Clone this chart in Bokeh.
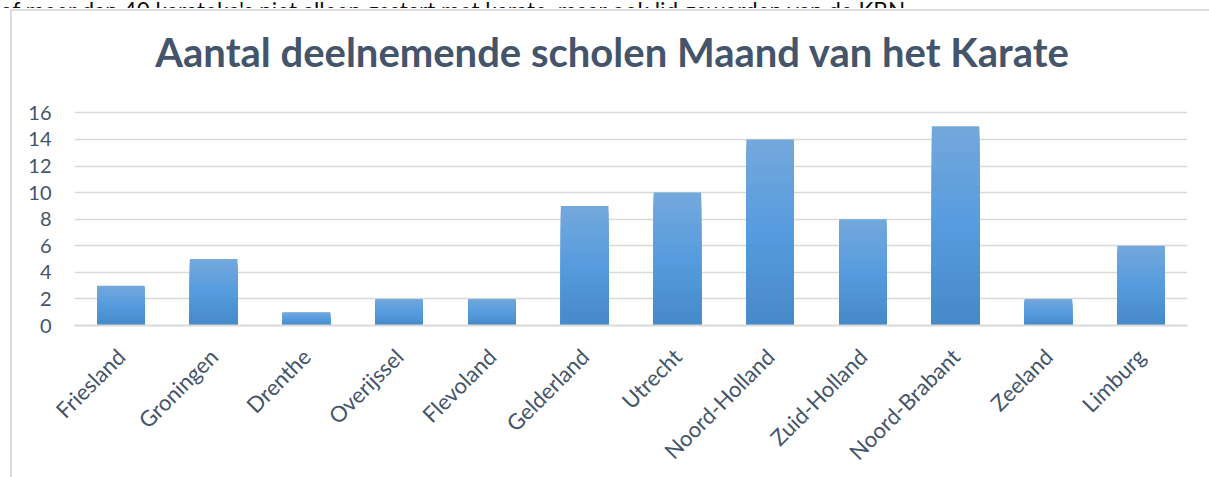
from bokeh.plotting import figure
from bokeh.models import Range1d, FixedTicker, ColumnDataSource, Div, Label
from bokeh.layouts import column
from bokeh.embed import file_html
from bokeh.resources import INLINE

# ---- data ----
provinces = ["Friesland", "Groningen", "Drenthe", "Overijssel", "Flevoland", "Gelderland",
             "Utrecht", "Noord-Holland", "Zuid-Holland", "Noord-Brabant", "Zeeland", "Limburg"]
schools = [3, 5, 1, 2, 2, 9, 10, 14, 8, 15, 2, 6]
y_ticks = [0, 2, 4, 6, 8, 10, 12, 14, 16]
title_text = "Aantal deelnemende scholen Maand van het Karate"
top_text = "of meer dan 40 karateka's niet alleen gestart met karate, maar ook lid geworden van de KBN."

TEXT_COL = "#44546a"
GRID_COL = "#d9d9d9"
FONT = "Lato"

W, H = 1209, 477
DIV_H = 8
PH = H - DIV_H
FL, FR, FT, FB = 74, 1187, 113, 327  # chart plot area in page px
Y_MAX = 16
PX_PER_UNIT = (FB - FT) / Y_MAX
PX_PER_CAT = (FR - FL) / len(provinces)
# the figure frame reaches to the top of the figure, so the title can live inside it
y_top = Y_MAX + (FT - DIV_H) / PX_PER_UNIT

# clipped line of document text above the chart
div = Div(text='<div style="margin-top:-15px;white-space:nowrap">%s</div>' % top_text,
          width=W, height=DIV_H,
          styles={"overflow": "hidden", "font-family": "Lato", "font-size": "22.5px",
                  "line-height": "22px", "color": "#0d0d0d", "margin": "0", "padding": "0"})

p = figure(width=W, height=PH, output_backend="svg", toolbar_location=None, title=None,
           x_range=Range1d(-0.5, len(provinces) - 0.5), y_range=Range1d(0, y_top),
           min_border_left=FL, min_border_right=W - FR,
           min_border_top=0, min_border_bottom=H - FB,
           background_fill_color=None, border_fill_color=None, outline_line_color=None)
p.styles = {
    "background-color": "white",
    "background-image": "linear-gradient(#dadde2,#dadde2), linear-gradient(#dadde2,#dadde2)",
    "background-position": "10px 1px, 10px 1px",
    "background-size": "2px 100%, 100% 2px",
    "background-repeat": "no-repeat",
}

# ---- title ----
p.add_layout(Label(x=-0.5 + (612 - FL) / PX_PER_CAT, y=(FB - 52) / PX_PER_UNIT,
                   text=title_text, text_align="center", text_baseline="alphabetic",
                   text_font=FONT, text_font_style="bold", text_font_size="40px",
                   text_color=TEXT_COL))

# ---- bars with vertical gradient (overlapping bands from the bar's own value) ----
def lerp(c1, c2, t):
    return tuple(round(a + (b - a) * t) for a, b in zip(c1, c2))

top_c, mid_c, bot_c = (116, 168, 220), (86, 156, 222), (70, 137, 200)
N = 30
bw = 0.513
xs_l, xs_r, tops, cols = [], [], [], []
for k in range(N - 1, -1, -1):
    t = (k + 0.5) / N
    c = lerp(bot_c, mid_c, t / 0.5) if t < 0.5 else lerp(mid_c, top_c, (t - 0.5) / 0.5)
    hexc = "#%02x%02x%02x" % c
    for i, v in enumerate(schools):
        xs_l.append(i - bw / 2)
        xs_r.append(i + bw / 2)
        tops.append(v * (k + 1) / N)
        cols.append(hexc)
src = ColumnDataSource(dict(left=xs_l, right=xs_r, top=tops, bottom=[0] * len(tops), color=cols))
p.quad(left="left", right="right", top="top", bottom="bottom", fill_color="color",
       line_color=None, source=src)

# ---- axes ----
yax = p.yaxis[0]
yax.ticker = FixedTicker(ticks=y_ticks)
yax.axis_line_color = None
yax.major_tick_line_color = None
yax.minor_tick_line_color = None
yax.major_tick_out = 0
yax.major_label_standoff = 23
yax.major_label_text_font = FONT
yax.major_label_text_font_size = "20px"
yax.major_label_text_color = TEXT_COL

xax = p.xaxis[0]
xax.ticker = FixedTicker(ticks=list(range(len(provinces))))
xax.major_label_overrides = {i: n for i, n in enumerate(provinces)}
xax.axis_line_color = GRID_COL
xax.axis_line_width = 2
xax.major_tick_line_color = None
xax.minor_tick_line_color = None
xax.major_tick_out = 0
xax.major_label_standoff = 27
xax.major_label_orientation = 0.785398
xax.major_label_text_font = FONT
xax.major_label_text_font_size = "22px"
xax.major_label_text_color = TEXT_COL

p.xgrid.visible = False
p.ygrid.ticker = FixedTicker(ticks=y_ticks[1:])
p.ygrid.grid_line_color = GRID_COL
p.ygrid.grid_line_width = 1.6

layout = column(div, p, spacing=0)
open("out.html", "w").write(file_html(layout, INLINE))
